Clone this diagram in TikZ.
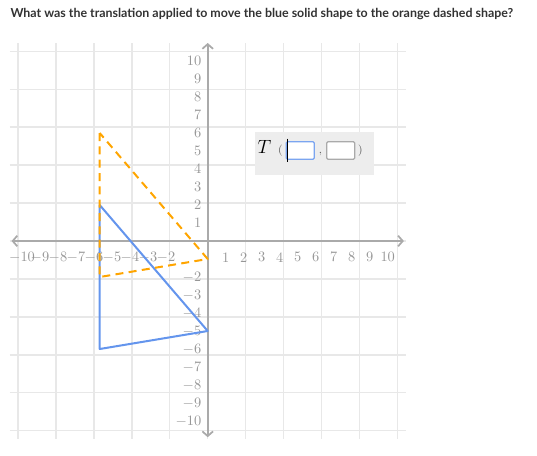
\documentclass[tikz,border=0pt]{standalone}
\usepackage{fontspec}
\usetikzlibrary{arrows.meta}
\newfontfamily\titlefont{Lato}

\definecolor{gridgray}{HTML}{E8E8E8}
\definecolor{axisgray}{HTML}{AAAAAA}
\definecolor{labelgray}{HTML}{969696}
\definecolor{shapeblue}{HTML}{6495ED}
\definecolor{shapeorange}{HTML}{FFA500}
\definecolor{panelgray}{HTML}{EDEDED}

\tikzset{every picture/.style={line width=0.75pt}}
\tikzset{
  gridline/.style={draw=gridgray, line width=1.1pt},
  axisline/.style={draw=axisgray, line width=1.3pt, {Straight Barb[length=3.5pt,width=8pt]}-{Straight Barb[length=3.5pt,width=8pt]}},
  ticklabel/.style={text=labelgray, inner sep=0pt, font=\fontsize{10.8}{12}\selectfont},
  solidshape/.style={draw=shapeblue, line width=1.5pt, line join=round},
  dashedshape/.style={draw=shapeorange, line width=1.5pt, dash pattern={on 6pt off 4pt}, line join=round},
  inbox/.style={draw, fill=white, rounded corners=1pt, line width=0.9pt, minimum width=21pt, minimum height=13.2pt, inner sep=0pt},
}

\begin{document}
\begin{tikzpicture}[x=0.75pt,y=0.75pt,yscale=-1,xscale=1]
%set diagram size
\useasboundingbox (0,0) rectangle (537,455);

%Question text
\draw (10,14) node [anchor=west][inner sep=0pt] (question) {\titlefont\bfseries\fontsize{9.3}{11}\selectfont\color[HTML]{333333}What was the translation applied to move the blue solid shape to the orange dashed shape?};

\begin{scope}[shift={(207.7,241)}, x=13.5pt, y=-13.5pt]
%Grid
\draw [gridline] (-11,-11) grid (11,11);
%Axes
\draw [axisline] (-10.9,0) -- (10.9,0);
\draw [axisline] (0,-10.9) -- (0,11);
%Tick labels on x axis
\foreach \i in {2,...,10} {
  \node [ticklabel] (xneg\i) at (-\i,-0.9) {\llap{$-$}\i};
  \node [ticklabel] (ypos\i) at (-0.33,\i) [anchor=east] {\i};
  \node [ticklabel] (yneg\i) at (-0.33,-\i) [anchor=east] {$-$\i};
}
\foreach \i in {1,...,10}
  \node [ticklabel] (xpos\i) at (\i,-0.9) {\i};
\node [ticklabel] (ypos1) at (-0.33,1) [anchor=east] {1};

%Blue solid triangle
\coordinate (A) at (-6,2);
\coordinate (B) at (-6,-6);
\coordinate (C) at (0,-5);
\draw [solidshape] (A) -- (B) -- (C) -- cycle;
%Orange dashed triangle
\coordinate (A') at (-6,6);
\coordinate (B') at (-6,-2);
\coordinate (C') at (0,-1);
\draw [dashedshape] (A') -- (B') -- (C') -- cycle;
\end{scope}

%Answer panel
\fill [panelgray] (255,132) rectangle (374,174.7);
\draw (264.5,147) node [inner sep=0pt] (tsym) {\fontsize{14}{16}\selectfont$T$};
\draw (280.5,151) node [inner sep=0pt, text=black!65] (lparen) {\fontsize{8.5}{10}\selectfont(};
\draw (300.2,150.5) node [inbox, draw=shapeblue!85] (boxa) {};
\draw (320.5,154) node [inner sep=0pt, text=black!65] (comma) {\fontsize{8.5}{10}\selectfont,};
\draw (340.7,150.5) node [inbox, draw=axisgray] (boxb) {};
\draw (360.5,151) node [inner sep=0pt, text=black!65] (rparen) {\fontsize{8.5}{10}\selectfont)};
%Cursor
\draw [line width=0.9pt] ([xshift=1.6pt,yshift=-1.8pt]boxa.north west) -- ([xshift=1.6pt,yshift=1.8pt]boxa.south west);

\end{tikzpicture}
\end{document}
